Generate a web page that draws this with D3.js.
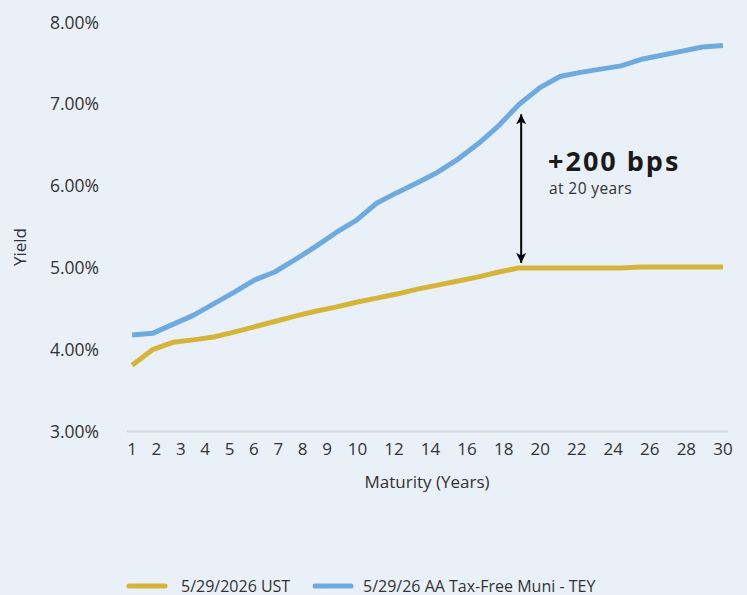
<!DOCTYPE html>
<html>
<head>
<meta charset="utf-8">
<script src="https://cdn.jsdelivr.net/npm/d3@7"></script>
<style>
  html, body { margin: 0; padding: 0; background: #eaf0f8; }
  svg { display: block; font-family: "Open Sans", Lato, "Noto Sans", sans-serif; }
</style>
</head>
<body>
<svg id="chart" width="747" height="595"></svg>
<script>
// Maturities in years
const maturities = d3.range(1, 31);

// 5/29/2026 UST curve (%)
const ustYields = [3.81, 4.00, 4.09, 4.12, 4.155, 4.215, 4.28, 4.345, 4.41, 4.47,
                   4.52, 4.58, 4.63, 4.68, 4.74, 4.79, 4.84, 4.89, 4.95, 5.00,
                   5.00, 5.00, 5.00, 5.00, 5.00, 5.01, 5.01, 5.01, 5.01, 5.01];

// 5/29/26 AA Tax-Free Muni, taxable-equivalent yield (%)
const muniYields = [4.18, 4.20, 4.31, 4.42, 4.56, 4.70, 4.85, 4.95, 5.10, 5.26,
                    5.43, 5.58, 5.79, 5.92, 6.04, 6.17, 6.33, 6.52, 6.74, 7.00,
                    7.20, 7.34, 7.39, 7.43, 7.47, 7.55, 7.60, 7.65, 7.70, 7.72];

// Axis labels
const xTickLabels = ["1","2","3","4","5","6","7","8","9","10","12","14","16","18","20","22","24","26","28","30"];
const yTicks = [3, 4, 5, 6, 7, 8];

const seriesNames = ["5/29/2026 UST", "5/29/26 AA Tax-Free Muni - TEY"];
const seriesColors = ["#d5b43a", "#6faade"];

// Spread annotation
const spreadYear = 20;
const spreadTitle = "+200 bps";
const spreadNote = "at 20 years";

const svg = d3.select("#chart");

const x = d3.scalePoint().domain(maturities).range([127, 728]).padding(0.25);
const y = d3.scaleLinear().domain([3, 8]).range([431.5, 22.5]);

const textColor = "#333";

// Baseline
svg.append("line")
  .attr("x1", 127).attr("x2", 728)
  .attr("y1", y(3)).attr("y2", y(3))
  .attr("stroke", "#d3d6db").attr("stroke-width", 2);

// Y tick labels
svg.append("g").selectAll("text").data(yTicks).join("text")
  .attr("x", 99).attr("y", d => y(d) + 6)
  .attr("text-anchor", "end")
  .attr("font-size", 17.5).attr("fill", textColor)
  .text(d => d3.format(".2f")(d) + "%");

// X tick labels: laid out as a row whose spacing follows each label's length,
// running from the first maturity to the last
const slot = d => d.length + 1;
const slots = xTickLabels.map(slot);
const units = d3.sum(slots) - slots[0] / 2 - slots[slots.length - 1] / 2;
const unit = (x(30) - x(1)) / units;
let cursor = x(1);
const centers = xTickLabels.map((d, i) => {
  if (i > 0) cursor += (slots[i - 1] + slots[i]) / 2 * unit;
  return cursor;
});
svg.append("g").selectAll("text").data(xTickLabels).join("text")
  .attr("x", (d, i) => centers[i]).attr("y", 455)
  .attr("text-anchor", "middle")
  .attr("font-size", 17).attr("fill", textColor)
  .text(d => d);

// Axis titles
svg.append("text")
  .attr("x", 427).attr("y", 488)
  .attr("text-anchor", "middle")
  .attr("font-size", 17).attr("fill", textColor)
  .text("Maturity (Years)");

svg.append("text")
  .attr("transform", "translate(26,247) rotate(-90)")
  .attr("text-anchor", "middle")
  .attr("font-size", 17).attr("fill", textColor)
  .text("Yield");

// Lines
const line = d3.line().x((d, i) => x(maturities[i])).y(d => y(d));
[ustYields, muniYields].forEach((vals, k) => {
  svg.append("path")
    .datum(vals)
    .attr("d", line)
    .attr("fill", "none")
    .attr("stroke", seriesColors[k])
    .attr("stroke-width", 5)
    .attr("stroke-linejoin", "round");
});

// Spread arrow between the curves
const defs = svg.append("defs");
["start", "end"].forEach(id => {
  defs.append("marker")
    .attr("id", "arrow-" + id)
    .attr("viewBox", "0 0 10 10")
    .attr("refX", 10).attr("refY", 5)
    .attr("markerWidth", 5).attr("markerHeight", 5)
    .attr("markerUnits", "strokeWidth")
    .attr("orient", id === "start" ? "auto-start-reverse" : "auto")
    .append("path")
    .attr("d", "M0,0 L10,5 L0,10 L2.5,5 Z")
    .attr("fill", "#000");
});
const si = maturities.indexOf(spreadYear);
const ax = x(spreadYear) + 2;
svg.append("line")
  .attr("x1", ax).attr("x2", ax)
  .attr("y1", y(muniYields[si]) + 10)
  .attr("y2", y(ustYields[si]) - 5)
  .attr("stroke", "#000").attr("stroke-width", 2)
  .attr("marker-start", "url(#arrow-start)")
  .attr("marker-end", "url(#arrow-end)");

svg.append("text")
  .attr("x", 548).attr("y", 171)
  .attr("font-size", 27).attr("font-weight", 700).attr("fill", "#1a1a1a")
  .attr("letter-spacing", 2)
  .text(spreadTitle);
svg.append("text")
  .attr("x", 549).attr("y", 194)
  .attr("font-size", 15.5).attr("fill", textColor)
  .attr("letter-spacing", 0.4)
  .text(spreadNote);

// Legend
const legend = svg.append("g");
const legendItems = [{sx: 129, tx: 181}, {sx: 315, tx: 363}];
seriesNames.forEach((name, k) => {
  const it = legendItems[k];
  legend.append("line")
    .attr("x1", it.sx).attr("x2", it.sx + 36)
    .attr("y1", 586).attr("y2", 586)
    .attr("stroke", seriesColors[k]).attr("stroke-width", 5)
    .attr("stroke-linecap", "round");
  legend.append("text")
    .attr("x", it.tx).attr("y", 591.5)
    .attr("font-size", 16).attr("fill", textColor)
    .text(name);
});
</script>
</body>
</html>
